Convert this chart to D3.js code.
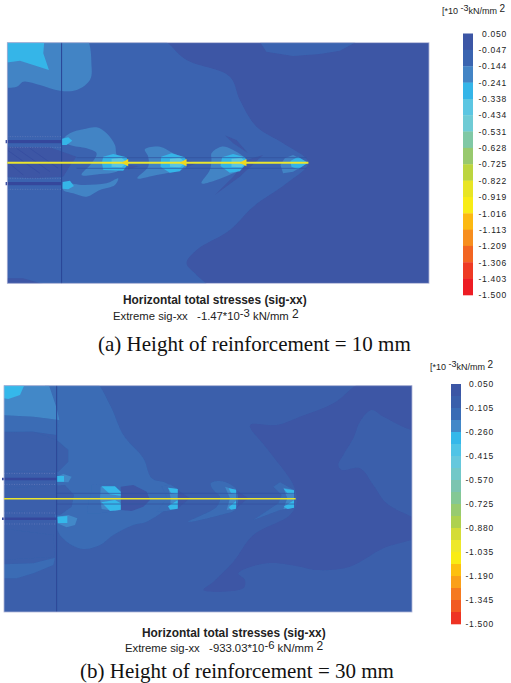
<!DOCTYPE html>
<html>
<head>
<meta charset="utf-8">
<script src="https://cdn.jsdelivr.net/npm/d3@7"></script>
<style>
  html, body { margin: 0; padding: 0; background: #fff; }
  svg { display: block; }
  .sans { font-family: "Liberation Sans", Arial, sans-serif; fill: #222; white-space: pre; }
  .serif { font-family: "Liberation Serif", "Times New Roman", serif; fill: #111; }
</style>
</head>
<body>
<svg id="chart" width="511" height="683"></svg>
<script>
// colour bar edges, top to bottom (*10^-3 kN/mm2)
var levelsA = [0.050, -0.047, -0.144, -0.241, -0.338, -0.434, -0.531, -0.628, -0.725, -0.822, -0.919, -1.016, -1.113, -1.209, -1.306, -1.403, -1.500];
var coloursA = ["#3c56a5", "#3a64b0", "#4384c5", "#35b5e8", "#5cc6e2", "#6fcbd5", "#80c8a5", "#98c96e", "#bcd53f", "#e8e525", "#f8ec16", "#fcb912", "#f78e1e", "#f26522", "#ee3a24", "#ed1c24"];

var levelsB = [0.050, -0.0275, -0.105, -0.1825, -0.260, -0.3375, -0.415, -0.4925, -0.570, -0.6475, -0.725, -0.8025, -0.880, -0.9575, -1.035, -1.1125, -1.190, -1.2675, -1.345, -1.4225, -1.500];
var ticksB = [0.050, -0.105, -0.260, -0.415, -0.570, -0.725, -0.880, -1.035, -1.190, -1.345, -1.500];
var coloursB = ["#3c56a5", "#3a5fab", "#3a6cb5", "#4288c8", "#35b8ea", "#50c4e6", "#66c8dd", "#72c8c8", "#7cc4b0", "#84c895", "#98cb70", "#aed14f", "#d4dc37", "#eee82a", "#f9ec14", "#fdc010", "#faa01a", "#f57a20", "#f15a22", "#ee3324"];

// values above the top of the bar: the darker pockets in the contour plot
var pocketColour = "#334a9f";

// contour regions: [stress, outline], outline in model units, painted in order
var regionsA = [
  [-0.10, [[470,20],[560,90],[690,140],[720,210],[770,290],[850,340],[925,398],[860,460],[760,530],[690,600],[590,660],[560,700],[590,735],[640,790],[0,790],[0,20]]],
  [-0.10, [[770,20],[800,65],[880,78],[960,72],[1020,62],[1065,38],[1090,20]]],
  [0.00, [[0,745],[70,745],[130,762],[130,790],[0,790]]],
  [-0.20, [[0,10],[250,10],[275,110],[270,150],[230,180],[180,182],[120,165],[70,155],[50,170],[0,165]]],
  [-0.30, [[0,10],[135,10],[130,70],[147,120],[100,105],[60,92],[0,100]]],
  [0.00, [[0,350],[150,352],[230,380],[215,400],[190,440],[100,445],[0,440]]],
  [-0.20, [[190,330],[210,310],[250,298],[290,292],[320,310],[345,345],[352,378],[385,400],[350,425],[300,432],[245,435],[275,400],[290,370],[260,355],[210,345]]],
  [-0.20, [[190,460],[250,465],[320,460],[355,445],[345,465],[300,480],[260,500],[220,490],[190,480]]],
  [-0.20, [[435,358],[480,350],[520,370],[560,390],[560,410],[520,425],[470,435],[412,445],[445,410],[445,380]]],
  [-0.20, [[635,370],[665,350],[700,360],[740,390],[740,410],[700,430],[650,450],[605,460],[630,420],[635,390]]],
  [-0.20, [[855,385],[880,375],[925,398],[880,425],[850,430],[842,405]]],
  [0.00, [[675,316],[710,330],[745,370],[700,340]]],
  [0.00, [[740,390],[790,375],[720,440],[645,495],[700,440]]],
  [0.00, [[385,405],[420,408],[385,418]]],
  [0.00, [[560,390],[590,400],[560,412]]],
  [-0.30, [[310,380],[340,372],[380,382],[386,400],[370,422],[310,420],[306,398]]],
  [-0.30, [[484,380],[515,370],[555,382],[561,400],[540,424],[510,428],[482,410]]],
  [-0.30, [[667,382],[700,372],[736,382],[741,400],[720,424],[690,428],[662,408]]],
  [-0.30, [[872,393],[895,380],[924,398],[895,418],[875,410]]],
  [-0.40, [[335,386],[365,383],[382,398],[365,412],[335,410]]],
  [-0.40, [[510,386],[540,383],[557,398],[540,412],[510,410]]],
  [-0.40, [[695,386],[725,383],[740,398],[725,412],[695,410]]],
  [-0.30, [[186,326],[205,322],[217,332],[200,345],[186,345]]],
  [-0.30, [[188,456],[210,452],[222,468],[205,478],[188,476]]]
];

var regionsB = [
  [-0.05, [[-20,-20],[1260,-20],[1260,740],[-20,740]]],
  [0.00, [[750,150],[830,150],[900,125],[1000,85],[1090,20],[1260,20],[1260,165],[1150,125],[1115,105],[1080,140],[1060,190],[1030,240],[1015,270],[1025,285],[1080,280],[1120,330],[1160,385],[1260,445],[1260,480],[1150,520],[1050,575],[950,585],[900,575],[800,565],[715,595],[735,615],[730,640],[610,645],[640,620],[700,560],[760,480],[870,420],[890,380],[880,330],[800,220]]],
  [-0.11, [[140,10],[275,10],[330,90],[370,180],[430,250],[455,310],[500,325],[530,355],[500,400],[440,440],[400,450],[340,480],[300,510],[250,522],[200,500],[170,460],[170,190],[150,100]]],
  [-0.11, [[0,120],[100,125],[178,135],[170,180],[100,170],[0,170]]],
  [-0.20, [[0,10],[140,10],[170,100],[178,135],[100,125],[0,120]]],
  [-0.30, [[0,10],[82,10],[60,60],[25,72],[0,68]]],
  [-0.05, [[0,172],[100,170],[170,195],[205,225],[205,260],[175,290],[0,290]]],
  [-0.05, [[0,340],[195,330],[222,360],[215,395],[180,420],[0,405]]],
  [-0.05, [[0,460],[160,480],[165,545],[0,555]]],
  [-0.11, [[0,568],[100,565],[165,548],[160,570],[100,595],[50,610],[0,610]]],
  [0.00, [[362,335],[400,330],[440,350],[450,375],[430,395],[395,408],[362,405]]],
  [0.00, [[533,345],[570,370],[533,400]]],
  [0.00, [[708,345],[745,370],[708,400]]],
  [-0.11, [[275,330],[340,328],[362,345],[362,405],[300,415],[262,415],[265,380],[275,350]]],
  [-0.11, [[485,335],[510,328],[533,342],[533,402],[500,408],[470,410],[490,385],[500,365]]],
  [-0.11, [[632,325],[660,318],[708,342],[708,402],[660,420],[565,440],[650,395],[660,365],[640,345]]],
  [-0.11, [[820,335],[840,322],[882,345],[882,398],[840,405],[760,435],[835,385],[845,360]]],
  [-0.20, [[170,305],[190,297],[215,305],[205,322],[170,320]]],
  [-0.20, [[172,425],[205,420],[232,430],[225,450],[200,457],[172,445]]],
  [-0.20, [[302,335],[345,335],[362,350],[362,405],[345,408],[305,402],[300,370]]],
  [-0.20, [[505,338],[533,342],[533,400],[510,402],[512,370]]],
  [-0.20, [[675,335],[708,345],[708,400],[680,405],[690,370]]],
  [-0.20, [[850,338],[882,345],[882,398],[850,402],[862,370]]],
  [-0.30, [[304,334],[345,334],[362,350],[362,362],[330,358]]],
  [-0.30, [[304,382],[345,375],[362,385],[362,404],[330,408]]],
  [-0.30, [[504,338],[533,342],[533,358],[513,354]]],
  [-0.30, [[504,394],[533,376],[533,401],[510,404]]],
  [-0.30, [[686,340],[708,344],[708,357],[693,354]]],
  [-0.30, [[686,397],[708,378],[708,401],[693,404]]],
  [-0.30, [[851,341],[882,346],[882,357],[863,356]]],
  [-0.30, [[851,395],[882,376],[882,398],[863,402]]],
  [-0.30, [[170,303],[192,303],[192,320],[170,320]]],
  [-0.30, [[172,425],[202,423],[202,444],[174,444]]]
];

// anchors and reinforcement, model units: [y, x0, x1]
var anchorsA = [[335, 17, 185], [461, 17, 185]];
var dottedA = [[320, 22, 185], [352, 22, 185], [445, 22, 185], [478, 22, 185]];
var faintA = [[383, 230, 920], [415, 230, 920]];
var anchorsB = [[312, 6, 170], [431, 6, 170]];
var dottedB = [[295, 12, 170], [328, 12, 170], [414, 12, 170], [447, 12, 170]];
var faintB = [[355, 170, 885], [387, 170, 885]];

// streaks of the soil mesh behind the face in (a): [x0, y0, x1, y1]
var streaksA = [[22,360,120,430], [50,355,150,425], [90,355,175,415], [22,395,70,435]];
var streaksB = [];

var svg = d3.select("#chart");

svg.append("defs").append("filter")
    .attr("id", "soft")
    .attr("x", "-2%").attr("y", "-2%").attr("width", "104%").attr("height", "104%")
  .append("feGaussianBlur")
    .attr("stdDeviation", 0.4);

function drawPanel(o) {
  var x = d3.scaleLinear().domain(o.domainX).range(o.rangeX);
  var y = d3.scaleLinear().domain(o.domainY).range(o.rangeY);

  // stress -> colour, same bands as the colour bar
  var colour = d3.scaleThreshold()
    .domain(o.levels.slice().reverse())
    .range([o.colours[o.colours.length - 1]].concat(o.colours.slice().reverse(), [pocketColour]));

  var smooth = d3.line()
    .x(function(d) { return x(d[0]); })
    .y(function(d) { return y(d[1]); })
    .curve(d3.curveCatmullRomClosed.alpha(0.5));
  var sharp = d3.line()
    .x(function(d) { return x(d[0]); })
    .y(function(d) { return y(d[1]); })
    .curve(d3.curveLinearClosed);

  svg.append("clipPath").attr("id", o.id + "-clip")
    .append("rect")
      .attr("x", o.rangeX[0]).attr("y", o.rangeY[0])
      .attr("width", o.rangeX[1] - o.rangeX[0])
      .attr("height", o.rangeY[1] - o.rangeY[0]);

  var map = svg.append("g").attr("filter", "url(#soft)");
  var inner = map.append("g").attr("clip-path", "url(#" + o.id + "-clip)");

  inner.append("rect")
    .attr("x", o.rangeX[0]).attr("y", o.rangeY[0])
    .attr("width", o.rangeX[1] - o.rangeX[0])
    .attr("height", o.rangeY[1] - o.rangeY[0])
    .attr("fill", colour(0));

  // small patches keep their blunt ends, big contours are smooth
  inner.selectAll("path.region")
    .data(o.regions)
    .enter().append("path")
      .attr("class", "region")
      .attr("d", function(d) { return d[1].length < 9 ? sharp(d[1]) : smooth(d[1]); })
      .attr("fill", function(d) { return colour(d[0]); });

  inner.selectAll("line.streak")
    .data(o.streaks)
    .enter().append("line")
      .attr("class", "streak")
      .attr("x1", function(d) { return x(d[0]); })
      .attr("y1", function(d) { return y(d[1]); })
      .attr("x2", function(d) { return x(d[2]); })
      .attr("y2", function(d) { return y(d[3]); })
      .attr("stroke", pocketColour).attr("stroke-width", 1).attr("stroke-opacity", 0.6);

  function hline(sel, rows, cls) {
    return sel.selectAll("line." + cls)
      .data(rows)
      .enter().append("line")
        .attr("class", cls)
        .attr("x1", function(d) { return x(d[1]); })
        .attr("x2", function(d) { return x(d[2]); })
        .attr("y1", function(d) { return y(d[0]); })
        .attr("y2", function(d) { return y(d[0]); });
  }

  hline(inner, o.faint, "faint").attr("stroke", "#34509f").attr("stroke-width", 0.7);
  hline(inner, o.dotted, "dotted").attr("stroke", "#6d80bd").attr("stroke-width", 0.7).attr("stroke-dasharray", "1 1.5");
  hline(map, o.anchors, "anchor").attr("stroke", "#34479c").attr("stroke-width", o.anchorWidth);

  // tunnel lining
  map.append("line")
    .attr("x1", x(o.liningX)).attr("x2", x(o.liningX))
    .attr("y1", o.rangeY[0]).attr("y2", o.rangeY[1])
    .attr("stroke", "#2b4596").attr("stroke-width", 1);

  map.append("rect")
    .attr("x", o.rangeX[0]).attr("y", o.rangeY[0])
    .attr("width", o.rangeX[1] - o.rangeX[0])
    .attr("height", o.rangeY[1] - o.rangeY[0])
    .attr("fill", "none")
    .attr("stroke", "#aeb4d6").attr("stroke-width", 0.8);

  // reinforcement
  hline(map, [o.strip], "strip").attr("stroke", "#ebe52f").attr("stroke-width", o.stripWidth);

  // arrowheads at the strip ends in (a)
  map.selectAll("path.tip")
    .data(o.tips)
    .enter().append("path")
      .attr("class", "tip")
      .attr("fill", "#f2d81f")
      .attr("d", function(d) {
        return d3.line()([[x(d), y(o.strip[0] - 11)], [x(d), y(o.strip[0] + 11)], [x(d - 20), y(o.strip[0])]]) + "Z";
      });

  // colour bar
  var barY = d3.scaleLinear().domain([o.levels[0], o.levels[o.levels.length - 1]]).range(o.barY);
  svg.selectAll("rect." + o.id + "-bar")
    .data(o.colours)
    .enter().append("rect")
      .attr("class", o.id + "-bar")
      .attr("x", o.barX)
      .attr("width", o.barWidth)
      .attr("y", function(d, i) { return barY(o.levels[i]); })
      .attr("height", function(d, i) { return barY(o.levels[i + 1]) - barY(o.levels[i]) + 0.3; })
      .attr("fill", function(d) { return d; });

  var axis = d3.axisRight(barY)
    .tickValues(o.ticks)
    .tickSize(0)
    .tickPadding(0)
    .tickFormat(d3.format(".3f"));

  var axisG = svg.append("g")
    .attr("transform", "translate(" + o.labelEnd + ",0)")
    .call(axis);
  axisG.select(".domain").remove();
  axisG.selectAll("text")
    .attr("class", "sans")
    .attr("text-anchor", "end")
    .style("font-size", "8.5px")
    .style("letter-spacing", "0.75px")
    .text(function(d) { return d3.format(".3f")(d).replace("\u2212", "-"); });

  // unit label
  var unit = svg.append("text").attr("class", "sans")
    .attr("x", o.unitX).attr("y", o.unitY)
    .style("font-size", "9px");
  unit.append("tspan").text("[*10 ");
  unit.append("tspan").attr("dy", -3).text("-3");
  unit.append("tspan").attr("dy", 3).text("kN/mm ");
  unit.append("tspan").attr("dy", -2).style("font-size", "10px").text("2");

  // captions
  svg.append("text").attr("class", "sans")
    .attr("x", o.titleX).attr("y", o.titleY)
    .style("font-size", "11.9px").style("font-weight", "bold")
    .text("Horizontal total stresses (sig-xx)");

  var ext = svg.append("text").attr("class", "sans")
    .attr("x", o.extremeX).attr("y", o.extremeY)
    .style("font-size", "11.3px");
  ext.append("tspan").text("Extreme sig-xx   " + o.extreme + "*10");
  ext.append("tspan").attr("dy", -3).text(o.exponent);
  ext.append("tspan").attr("dy", 3).text(" kN/mm ");
  ext.append("tspan").attr("dy", -2).style("font-size", "12px").text("2");

  svg.append("text").attr("class", "serif")
    .attr("x", o.captionX).attr("y", o.captionY)
    .style("font-size", "21px")
    .text(o.caption);
}

drawPanel({
  id: "a",
  domainX: [22, 1288], domainY: [38, 760],
  rangeX: [7.3, 429], rangeY: [42.7, 283.3],
  regions: regionsA, streaks: streaksA, levels: levelsA, colours: coloursA, ticks: levelsA,
  anchors: anchorsA, dotted: dottedA, faint: faintA, anchorWidth: 3.2,
  liningX: 185,
  strip: [398, 22, 926], stripWidth: 2,
  tips: [385, 560, 740],
  barX: 463, barWidth: 10, barY: [33.5, 295], labelEnd: 507,
  unitX: 442, unitY: 14,
  titleX: 123, titleY: 304,
  extremeX: 113, extremeY: 320, extreme: "-1.47", exponent: "-3",
  captionX: 98, captionY: 351, caption: "(a) Height of reinforcement = 10 mm"
});

drawPanel({
  id: "b",
  domainX: [12, 1236], domainY: [32, 711],
  rangeX: [4, 412], rangeY: [385.7, 612],
  regions: regionsB, streaks: streaksB, levels: levelsB, colours: coloursB, ticks: ticksB,
  anchors: anchorsB, dotted: dottedB, faint: faintB, anchorWidth: 2.4,
  liningX: 170,
  strip: [371, 12, 887], stripWidth: 1.6,
  tips: [],
  barX: 451, barWidth: 10, barY: [384, 624], labelEnd: 494,
  unitX: 430, unitY: 370,
  titleX: 142, titleY: 637,
  extremeX: 125, extremeY: 652, extreme: "-933.03", exponent: "-6",
  captionX: 80, captionY: 678, caption: "(b) Height of reinforcement = 30 mm"
});
</script>
</body>
</html>
